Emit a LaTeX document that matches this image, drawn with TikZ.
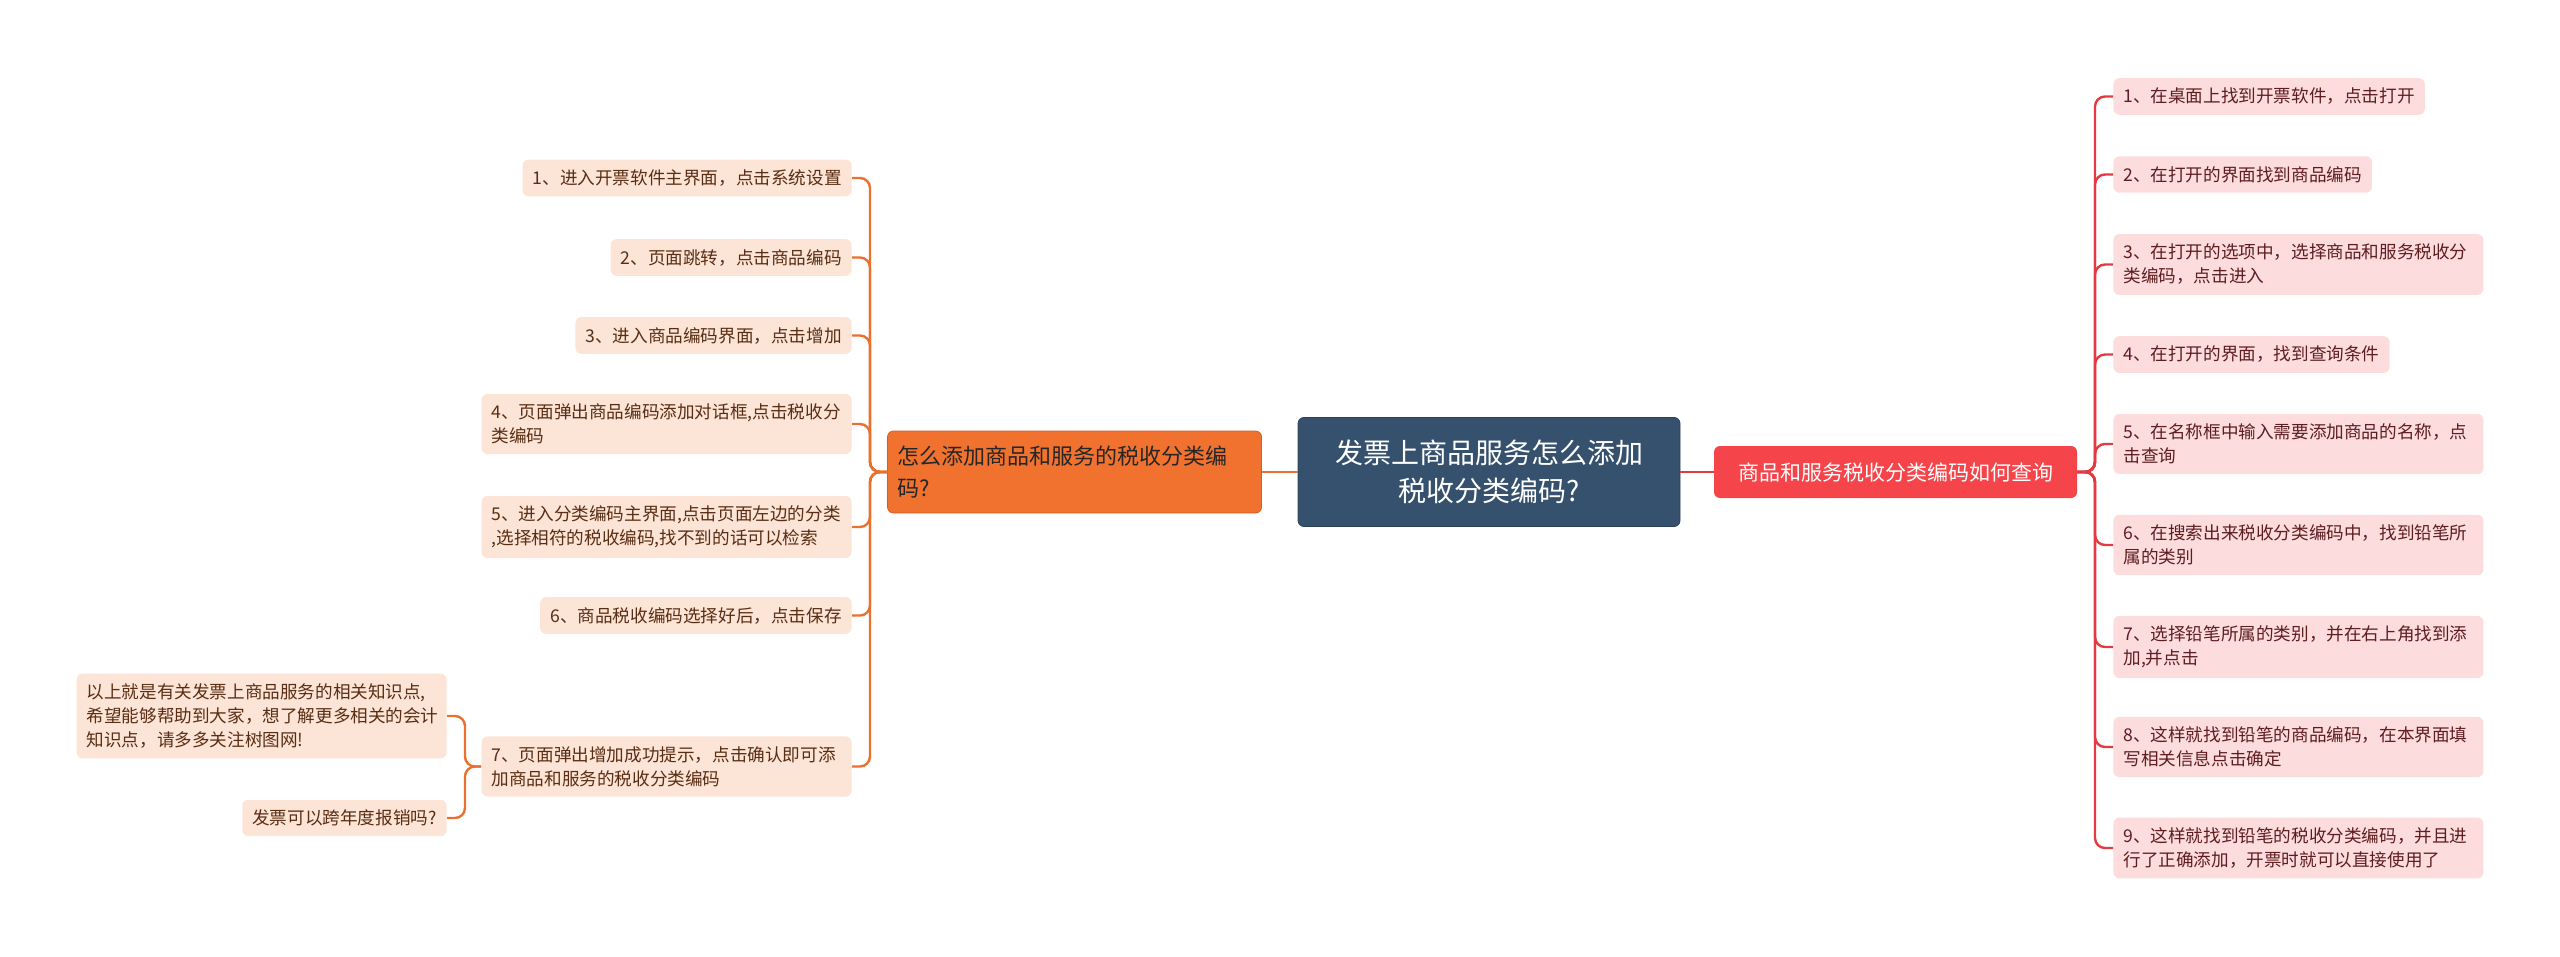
\documentclass[tikz,border=0pt]{standalone}
\usepackage{fontspec}
\setmainfont{Noto Sans CJK SC}
\definecolor{cblue}{HTML}{36516D}
\definecolor{corange}{HTML}{F1722E}
\definecolor{cred}{HTML}{F5444A}
\definecolor{lfill}{HTML}{FCE4D6}
\definecolor{rfill}{HTML}{FDDCDD}
\definecolor{ltext}{HTML}{5A2E14}
\definecolor{rtext}{HTML}{5E1E20}
\definecolor{lline}{HTML}{E9702F}
\definecolor{rline}{HTML}{E23A40}
\tikzset{
  box/.style={rounded corners=3pt, inner sep=5pt, align=left, font=\fontsize{8.8}{12}\selectfont},
  litem/.style={box, fill=lfill, text=ltext, anchor=east},
  ritem/.style={box, fill=rfill, text=rtext, anchor=west},
  lconn/.style={draw=lline, line width=1.2pt, rounded corners=5pt},
  rconn/.style={draw=rline, line width=1.2pt, rounded corners=5pt},
}
\begin{document}
\begin{tikzpicture}[x=0.5pt,y=-0.5pt]
\useasboundingbox (0,0) rectangle (2560,957);
% center
\node[rounded corners=3pt, fill=cblue, draw=cblue!80!black, text=white, align=center, minimum width=191pt, minimum height=54.5pt, font=\fontsize{14}{19}\selectfont] (c) at (1489,472) {发票上商品服务怎么添加\\税收分类编码?};
\node[rounded corners=3pt, fill=corange, draw=corange!85!black, text=black!85, align=left, minimum height=41pt, text width=177pt, inner sep=5pt, font=\fontsize{11}{16}\selectfont] (L) at (1074.5,472) {怎么添加商品和服务的税收分类编\\码?};
\node[rounded corners=3pt, fill=cred, text=white, align=center, minimum height=26pt, minimum width=181.5pt, inner sep=3pt, font=\fontsize{10.5}{13}\selectfont] (R) at (1895.5,472) {商品和服务税收分类编码如何查询};
\draw[lconn] (c.west) -- (L.east);
\draw[rconn] (c.east) -- (R.west);
% left items
\node[litem] (l1) at (852,178) {1、进入开票软件主界面，点击系统设置};
\node[litem] (l2) at (852,257.5) {2、页面跳转，点击商品编码};
\node[litem] (l3) at (852,335.5) {3、进入商品编码界面，点击增加};
\node[litem, text width=175pt] (l4) at (852,424) {4、页面弹出商品编码添加对话框,点击税收分\\类编码};
\node[litem, text width=175pt] (l5) at (852,527) {5、进入分类编码主界面,点击页面左边的分类\\,选择相符的税收编码,找不到的话可以检索};
\node[litem] (l6) at (852,615.5) {6、商品税收编码选择好后，点击保存};
\node[litem, text width=175pt] (l7) at (852,766.5) {7、页面弹出增加成功提示，点击确认即可添\\加商品和服务的税收分类编码};
\foreach \n in {l1,l2,l3,l4,l5,l6,l7} \draw[lconn] (L.west) -- (870,472) |- (\n.east);
\node[litem, text width=175pt] (s1) at (447,716) {以上就是有关发票上商品服务的相关知识点,\\希望能够帮助到大家，想了解更多相关的会计\\知识点，请多多关注树图网!};
\node[litem] (s2) at (447,818) {发票可以跨年度报销吗?};
\foreach \n in {s1,s2} \draw[lconn] (l7.west) -- (465,766.5) |- (\n.east);
% right items
\node[ritem] (r1) at (2113,96.5) {1、在桌面上找到开票软件，点击打开};
\node[ritem] (r2) at (2113,174.5) {2、在打开的界面找到商品编码};
\node[ritem, text width=175pt] (r3) at (2113,264.5) {3、在打开的选项中，选择商品和服务税收分\\类编码，点击进入};
\node[ritem] (r4) at (2113,354.5) {4、在打开的界面，找到查询条件};
\node[ritem, text width=175pt] (r5) at (2113,444) {5、在名称框中输入需要添加商品的名称，点\\击查询};
\node[ritem, text width=175pt] (r6) at (2113,545) {6、在搜索出来税收分类编码中，找到铅笔所\\属的类别};
\node[ritem, text width=175pt] (r7) at (2113,647) {7、选择铅笔所属的类别，并在右上角找到添\\加,并点击};
\node[ritem, text width=175pt] (r8) at (2113,747) {8、这样就找到铅笔的商品编码，在本界面填\\写相关信息点击确定};
\node[ritem, text width=175pt] (r9) at (2113,848) {9、这样就找到铅笔的税收分类编码，并且进\\行了正确添加，开票时就可以直接使用了};
\foreach \n in {r1,r2,r3,r4,r5,r6,r7,r8,r9} \draw[rconn] (R.east) -- (2095,472) |- (\n.west);
\end{tikzpicture}
\end{document}
